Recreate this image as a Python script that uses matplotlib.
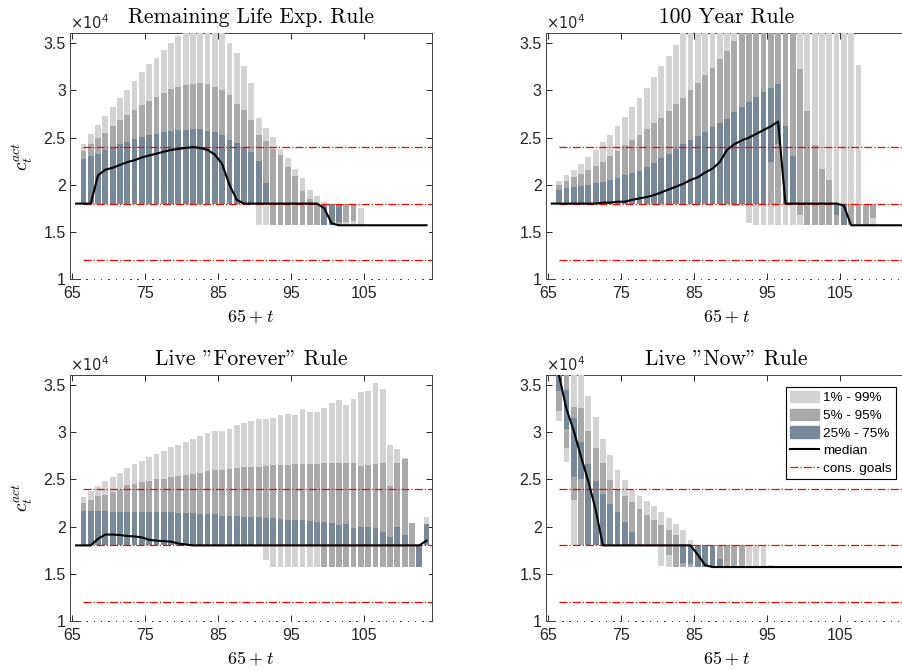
"""
Consumption paths under four spending rules: percentile bands and median
"""

import matplotlib
matplotlib.use('Agg')
import matplotlib.pyplot as plt
import numpy as np
from matplotlib.patches import Patch
from matplotlib.lines import Line2D

plt.rcParams['font.family'] = ['Liberation Sans', 'DejaVu Sans']
plt.rcParams['mathtext.fontset'] = 'cm'

# ages of the percentile bars and of the median path
ages = np.arange(66, 114)
med_ages = np.arange(65, 114)
goals = [1.2, 1.8, 2.4]          # consumption goals, x 10^4
titles = ['Remaining Life Exp. Rule', '100 Year Rule',
          'Live "Forever" Rule', 'Live "Now" Rule']
xticks = [65, 75, 85, 95, 105]
yticks = [1, 1.5, 2, 2.5, 3, 3.5]
legend_labels = ['1% - 99%', '5% - 95%', '25% - 75%', 'median', 'cons. goals']

# ---- Remaining life expectancy rule (values x 10^4)
rle_p99 = [2.43, 2.54, 2.63, 2.73, 2.82, 2.92, 3.00, 3.10, 3.20, 3.28, 3.35, 3.43,
           3.50, 3.58, 3.70, 3.70, 3.70, 3.70, 3.70, 3.70, 3.50, 3.40, 3.26, 3.08,
           2.71, 2.60, 2.51, 2.38, 2.28, 2.17, 2.07, 1.94, 1.88, 1.82, 1.80, 1.80,
           1.80, 1.80, 1.75] + [1.57] * 9
rle_p95 = [2.36, 2.43, 2.50, 2.55, 2.62, 2.69, 2.74, 2.79, 2.85, 2.89, 2.93, 2.97,
           3.02, 3.04, 3.06, 3.07, 3.08, 3.07, 3.04, 3.00, 2.95, 2.86, 2.79, 2.69,
           2.53, 2.46, 2.38, 2.32, 2.19, 2.09, 1.93, 1.85, 1.80, 1.80, 1.80, 1.80,
           1.80, 1.80] + [1.57] * 10
rle_p75 = [2.27, 2.31, 2.33, 2.37, 2.40, 2.43, 2.45, 2.49, 2.51, 2.53, 2.54, 2.56,
           2.57, 2.58, 2.58, 2.59, 2.59, 2.57, 2.56, 2.53, 2.47, 2.44, 2.40, 2.35,
           2.25, 2.02] + [1.80] * 10 + [1.57] * 12
rle_p25 = [1.80] * 33 + [1.57, 1.57, 1.61] + [1.57] * 12
rle_p5 = [1.80] * 26 + [1.57] * 10 + [1.61, 1.62] + [1.57] * 10
rle_p1 = [1.80] * 24 + [1.57] * 24
rle_med = [1.80, 1.80, 1.80, 2.10, 2.16, 2.18, 2.21, 2.24, 2.26, 2.29, 2.31, 2.33,
           2.35, 2.37, 2.38, 2.39, 2.40, 2.39, 2.37, 2.32, 2.22, 2.00, 1.84] \
    + [1.80] * 11 + [1.75, 1.59] + [1.57] * 13

# ---- 100 year rule
y100_p99 = [2.04, 2.10, 2.16, 2.22, 2.29, 2.37, 2.45, 2.53, 2.62, 2.72, 2.82, 2.92,
            3.03, 3.14, 3.26, 3.37, 3.48] + [3.70] * 24 + [3.27, 1.80, 1.80] + [1.57] * 4
y100_p95 = [2.00, 2.04, 2.08, 2.11, 2.16, 2.20, 2.24, 2.30, 2.36, 2.42, 2.47, 2.53,
            2.59, 2.66, 2.71, 2.78, 2.86, 2.92, 3.01, 3.08, 3.16, 3.24, 3.33, 3.42,
            3.53] + [3.70] * 8 + [3.23, 2.78, 2.42, 2.17, 2.05] + [1.80] * 6 + [1.57] * 4
y100_p75 = [1.94, 1.97, 1.98, 1.99, 2.00, 2.02, 2.03, 2.05, 2.07, 2.10, 2.12, 2.15,
            2.19, 2.23, 2.28, 2.33, 2.38, 2.43, 2.47, 2.52, 2.56, 2.61, 2.65, 2.70,
            2.77, 2.82, 2.88, 2.93, 2.98, 3.03, 3.07, 2.62, 2.30] + [1.80] * 7 \
    + [1.57, 1.57, 1.57, 1.65] + [1.57] * 4
y100_p25 = [1.80] * 29 + [2.24, 2.43] + [1.80] * 7 + [1.68, 1.57, 1.57, 1.57, 1.57, 1.65] \
    + [1.57] * 4
y100_p5 = [1.80] * 33 + [1.68] + [1.57] * 9 + [1.65] + [1.57] * 4
y100_p1 = [1.80] * 24 + [1.77, 1.77, 1.59] + [1.57] * 21
y100_med = [1.80] * 7 + [1.81, 1.81, 1.82, 1.82, 1.84, 1.855, 1.87, 1.89, 1.92, 1.95,
                         1.98, 2.01, 2.05, 2.08, 2.13, 2.17, 2.24, 2.37, 2.43, 2.47,
                         2.50, 2.54, 2.58, 2.62, 2.67] + [1.80] * 8 + [1.78] + [1.57] * 8

# ---- Live "forever" rule
lf_p99 = [2.31, 2.38, 2.43, 2.48, 2.53, 2.57, 2.62, 2.66, 2.70, 2.74, 2.77, 2.80,
          2.84, 2.87, 2.90, 2.93, 2.96, 2.99, 3.01, 3.02, 3.04, 3.08, 3.10, 3.12,
          3.14, 3.14, 3.15, 3.18, 3.20, 3.19, 3.25, 3.22, 3.22, 3.26, 3.31, 3.34,
          3.29, 3.35, 3.43, 3.44, 3.53, 3.46, 2.87, 2.82, 2.73, 2.04, 1.80, 2.10]
lf_p95 = [2.25, 2.28, 2.32, 2.34, 2.37, 2.39, 2.44, 2.45, 2.47, 2.48, 2.50, 2.51,
          2.53, 2.54, 2.55, 2.56, 2.57, 2.59, 2.60, 2.60, 2.61, 2.62, 2.63, 2.63,
          2.63, 2.64, 2.65, 2.65, 2.65, 2.66, 2.66, 2.66, 2.66, 2.67, 2.68, 2.68,
          2.67, 2.68, 2.64, 2.65, 2.66, 2.67, 2.43, 2.67, 2.72, 2.04, 1.80, 2.03]
lf_p75 = [2.17, 2.17, 2.17, 2.17, 2.16, 2.16, 2.16, 2.16, 2.16, 2.15, 2.15, 2.15,
          2.15, 2.14, 2.14, 2.14, 2.13, 2.13, 2.13, 2.11, 2.11, 2.11, 2.10, 2.10,
          2.10, 2.09, 2.09, 2.08, 2.07, 2.07, 2.07, 2.06, 2.05, 2.05, 2.04, 2.02,
          2.03, 1.99, 2.00, 2.00, 1.99, 1.94, 1.89, 2.00, 1.91, 1.80, 1.80, 2.03]
lf_p25 = [1.80] * 46 + [1.57, 1.80]
lf_p5 = [1.80] * 33 + [1.57] * 14 + [1.80]
lf_p1 = [1.80] * 25 + [1.64] + [1.57] * 21 + [1.80]
lf_med = [1.80, 1.80, 1.80, 1.87, 1.915, 1.915, 1.91, 1.90, 1.895, 1.885, 1.86, 1.85,
          1.845, 1.84, 1.82, 1.81] + [1.80] * 32 + [1.85]

# ---- Live "now" rule
ln_p99 = [3.80, 3.80, 3.80, 3.80, 3.39, 3.16, 2.93, 2.76, 2.60, 2.49, 2.39, 2.32,
          2.27, 2.22, 2.16, 2.09, 2.03, 1.96, 1.86, 1.80, 1.80, 1.80, 1.80, 1.80,
          1.80, 1.80, 1.80, 1.80, 1.80, 1.59] + [1.57] * 18
ln_p95 = [3.80, 3.80, 3.27, 3.26, 3.02, 2.83, 2.67, 2.49, 2.40, 2.32, 2.26, 2.19,
          2.12, 2.07, 2.02, 1.96, 1.91, 1.82, 1.80, 1.80, 1.80, 1.80, 1.80, 1.80,
          1.80, 1.80] + [1.57] * 22
ln_p75 = [3.80, 3.45, 3.15, 2.90, 2.66, 2.48, 2.35, 2.24, 2.16, 2.05, 1.94] \
    + [1.80] * 11 + [1.66] + [1.57] * 25
ln_p25 = [3.44, 3.04, 2.53, 2.51] + [1.80] * 13 + [1.61, 1.60] + [1.57] * 29
ln_p5 = [3.23, 2.83, 2.28] + [1.80] * 12 + [1.70] + [1.57] * 32
ln_p1 = [3.12, 2.69] + [1.80] * 12 + [1.58] + [1.57] * 33
ln_med = [3.75, 3.60, 3.25, 3.02, 2.74, 2.48, 2.18] + [1.80] * 13 + [1.70, 1.59] \
    + [1.57] * 27

panels = [
    (rle_p1, rle_p5, rle_p25, rle_p75, rle_p95, rle_p99, rle_med),
    (y100_p1, y100_p5, y100_p25, y100_p75, y100_p95, y100_p99, y100_med),
    (lf_p1, lf_p5, lf_p25, lf_p75, lf_p95, lf_p99, lf_med),
    (ln_p1, ln_p5, ln_p25, ln_p75, ln_p95, ln_p99, ln_med),
]

c_light = '#d3d3d3'
c_mid = '#a9a9a9'
c_dark = '#778899'
xlim = (64.66, 114.25)
ylim = (1.0, 3.61)


def draw_panel(ax, title, data, ylabel=False):
  p1, p5, p25, p75, p95, p99, med = [np.asarray(v, dtype=float) for v in data]
  x = ages + 0.5
  w = 0.8
  # white base hides the x-axis line except in the gaps between bars
  base = ylim[0] - 0.015
  ax.bar(x, p1 - base, w, bottom=base, color='white', zorder=2.6, clip_on=False)
  ax.bar(x, p99 - p1, w, bottom=p1, color=c_light, zorder=2.7)
  ax.bar(x, p95 - p5, w, bottom=p5, color=c_mid, zorder=2.8)
  ax.bar(x, p75 - p25, w, bottom=p25, color=c_dark, zorder=2.9)
  ax.hlines(goals, x[0], xlim[1] + 5, colors='red', linestyles='-.',
            linewidth=0.9, zorder=3)
  ax.plot(med_ages + 0.5, med, color='black', lw=1.5, zorder=3.1)

  ax.set_xlim(*xlim)
  ax.set_ylim(*ylim)
  ax.set_xticks(xticks)
  ax.set_yticks(yticks)
  ax.set_yticklabels(['%g' % v for v in yticks])
  ax.tick_params(direction='in', top=True, right=True, labelsize=11.5,
                 length=4, width=0.7, color='#262626', labelcolor='#262626')
  ax.tick_params(axis='x', pad=5)
  ax.tick_params(axis='y', pad=3)
  for s in ax.spines.values():
    s.set_color('#404040')
    s.set_linewidth(0.7)
  ax.set_title(title, fontfamily='cmr10', fontsize=15.5, pad=7)
  ax.set_xlabel(r'$65\:+\:t$', fontsize=13, labelpad=5)
  if ylabel:
    ax.set_ylabel(r'$c_t^{act}$', fontsize=14, labelpad=6)
  ax.text(0.0, 1.005, r'$\times10^4$', transform=ax.transAxes, fontsize=10.5,
          math_fontfamily='dejavusans', color='#262626', va='bottom', ha='left')


fig = plt.figure(figsize=(9.03, 6.70), dpi=100)
W, H = 903.0, 670.0
rects = [(70, 33, 362, 246), (545.7, 33, 362, 246),
         (70, 375, 362, 245.7), (545.7, 375, 362, 245.7)]
axes = []
for (l, t, w, h) in rects:
  axes.append(fig.add_axes([l / W, 1 - (t + h) / H, w / W, h / H]))

for i, ax in enumerate(axes):
  draw_panel(ax, titles[i], panels[i], ylabel=(i % 2 == 0))

handles = [Patch(color=c_light), Patch(color=c_mid), Patch(color=c_dark),
           Line2D([], [], color='black', lw=1.5),
           Line2D([], [], color='red', ls='-.', lw=0.9)]
leg = axes[3].legend(handles, legend_labels, loc='upper right',
                     bbox_to_anchor=(896 / W, 1 - 387 / H),
                     bbox_transform=fig.transFigure, borderaxespad=0,
                     fontsize=9.7, fancybox=False, framealpha=1,
                     edgecolor='black', handlelength=2.2, handleheight=0.9,
                     handletextpad=0.3, labelspacing=0.33, borderpad=0.3)
leg.get_frame().set_linewidth(0.8)
leg.set_zorder(5)

fig.savefig('out.png', dpi=100)
